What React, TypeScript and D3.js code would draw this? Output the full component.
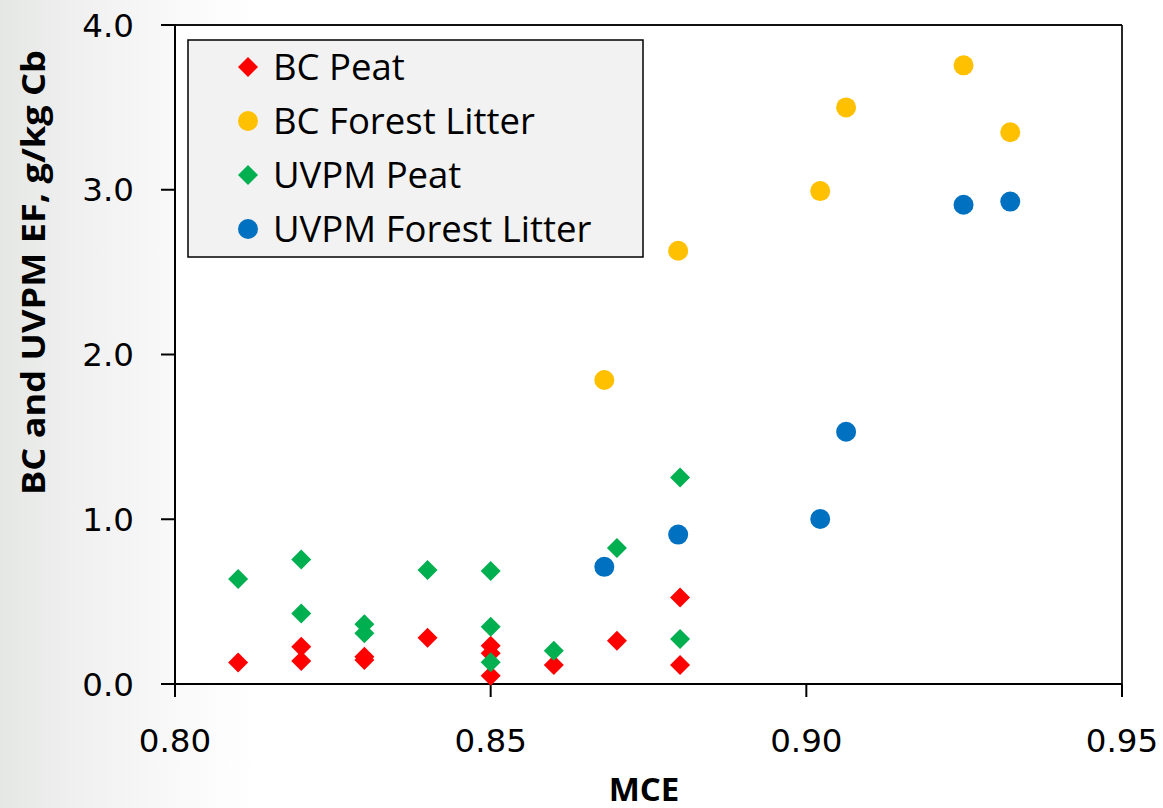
import React from 'react';
import * as d3 from 'd3';

// ---- data ----
const bcPeatMCE = [0.81, 0.82, 0.82, 0.83, 0.83, 0.84, 0.85, 0.85, 0.85, 0.86, 0.87, 0.88, 0.88];
const bcPeatEF = [0.13, 0.14, 0.226, 0.145, 0.165, 0.281, 0.232, 0.186, 0.05, 0.115, 0.263, 0.525, 0.115];
const uvpmPeatMCE = [0.81, 0.82, 0.82, 0.83, 0.83, 0.84, 0.85, 0.85, 0.85, 0.86, 0.87, 0.88, 0.88];
const uvpmPeatEF = [0.637, 0.756, 0.428, 0.362, 0.308, 0.692, 0.686, 0.348, 0.132, 0.202, 0.825, 1.253, 0.273];
const forestMCE = [0.868, 0.8797, 0.9022, 0.9063, 0.9249, 0.9323];
const bcForestEF = [1.845, 2.63, 2.992, 3.5, 3.755, 3.349];
const uvpmForestEF = [0.711, 0.907, 1.0015, 1.531, 2.909, 2.928];

const xTicks = [0.8, 0.85, 0.9, 0.95];
const yTicks = [0, 1, 2, 3, 4];
const seriesNames = ['BC Peat', 'BC Forest Litter', 'UVPM Peat', 'UVPM Forest Litter'];
const seriesColors = ['#ff0000', '#ffc000', '#00b050', '#0070c0'];
const seriesShapes = ['diamond', 'circle', 'diamond', 'circle'];

const W = 1163;
const H = 808;

export default function App() {
  const x = d3.scaleLinear().domain([0.8, 0.95]).range([175, 1122]);
  const y = d3.scaleLinear().domain([0, 4]).range([684, 25]);

  const diamondPath = d3.symbol(d3.symbolSquare, 200)() as string;
  const circlePath = d3.symbol(d3.symbolCircle, Math.PI * 100)() as string;

  const series = [
    bcPeatMCE.map((m, i) => [m, bcPeatEF[i]]),
    forestMCE.map((m, i) => [m, bcForestEF[i]]),
    uvpmPeatMCE.map((m, i) => [m, uvpmPeatEF[i]]),
    forestMCE.map((m, i) => [m, uvpmForestEF[i]]),
  ];

  const marker = (shape: string, color: string, cx: number, cy: number, key: string) =>
    shape === 'diamond' ? (
      <path key={key} d={diamondPath} fill={color} transform={`translate(${cx},${cy}) rotate(45)`} />
    ) : (
      <path key={key} d={circlePath} fill={color} transform={`translate(${cx},${cy})`} />
    );

  const x0 = x(0.8);
  const x1 = x(0.95);
  const yTop = y(4);
  const yBot = y(0);

  return (
    <svg width={W} height={H} style={{ position: 'absolute', left: 0, top: 0 }}>
      <defs>
        <linearGradient id="bg" x1="0" y1="0" x2="1" y2="0">
          <stop offset="0" stopColor="#e5e7e5" />
          <stop offset="0.06" stopColor="#eeefee" />
          <stop offset="0.13" stopColor="#f7f7f7" />
          <stop offset="0.22" stopColor="#ffffff" />
        </linearGradient>
      </defs>
      <rect x={0} y={0} width={W} height={H} fill="url(#bg)" />
      <rect x={x0} y={yTop} width={x1 - x0} height={yBot - yTop} fill="#ffffff" />

      {/* frame */}
      <line x1={x0} x2={x1} y1={yTop} y2={yTop} stroke="#111" strokeWidth={1.8} />
      <line x1={x1} x2={x1} y1={yTop} y2={yBot} stroke="#111" strokeWidth={1.8} />

      {/* axes */}
      <line x1={x0} x2={x1} y1={yBot} y2={yBot} stroke="#000" strokeWidth={2} />
      <line x1={x0} x2={x0} y1={yTop} y2={yBot + 13} stroke="#000" strokeWidth={2} />

      {yTicks.map((t) => (
        <g key={'y' + t}>
          <line x1={x0 - 14} x2={x0} y1={y(t)} y2={y(t)} stroke="#000" strokeWidth={2} />
          <text
            x={134}
            y={y(t)}
            dy="0.36em"
            textAnchor="end"
            fontFamily="DejaVu Sans"
            fontSize={32.5}
            fill="#000"
          >
            {d3.format('.1f')(t)}
          </text>
        </g>
      ))}
      {xTicks.map((t) => (
        <g key={'x' + t}>
          <line x1={x(t)} x2={x(t)} y1={yBot} y2={yBot + 13} stroke="#000" strokeWidth={2} />
          <text
            x={x(t)}
            y={752}
            textAnchor="middle"
            fontFamily="DejaVu Sans"
            fontSize={32.5}
            fill="#000"
          >
            {d3.format('.2f')(t)}
          </text>
        </g>
      ))}

      {/* axis titles */}
      <text
        transform="translate(45,272.5) rotate(-90)"
        textAnchor="middle"
        fontFamily="Open Sans"
        fontWeight={700}
        fontSize={32}
        textLength={445}
        lengthAdjust="spacingAndGlyphs"
        fill="#000"
      >
        BC and UVPM EF, g/kg Cb
      </text>
      <text
        x={644}
        y={801}
        textAnchor="middle"
        fontFamily="Open Sans"
        fontWeight={700}
        fontSize={33}
        fill="#000"
      >
        MCE
      </text>

      {/* points */}
      {series.map((pts, si) => (
        <g key={'s' + si}>
          {pts.map((p, i) => marker(seriesShapes[si], seriesColors[si], x(p[0]), y(p[1]), `p${si}-${i}`))}
        </g>
      ))}

      {/* legend */}
      <rect x={188} y={40} width={455} height={217} fill="#f2f2f2" stroke="#000" strokeWidth={1.5} />
      {seriesNames.map((name, i) => {
        const cy = 67 + i * 54;
        return (
          <g key={'l' + i}>
            {marker(seriesShapes[i], seriesColors[i], 248, cy, 'lm' + i)}
            <text x={273} y={cy + 12.5} fontFamily="Open Sans" fontSize={36.5} fill="#000">
              {name}
            </text>
          </g>
        );
      })}
    </svg>
  );
}
